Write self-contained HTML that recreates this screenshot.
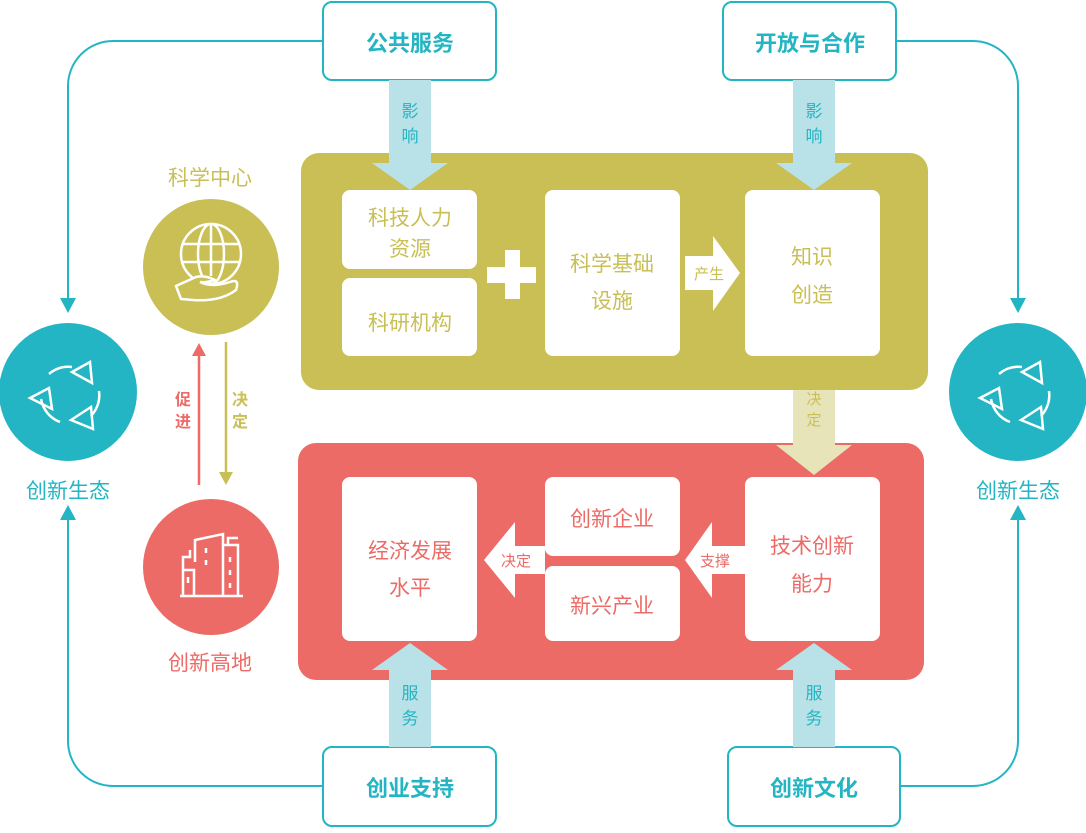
<!DOCTYPE html>
<html><head><meta charset="utf-8"><style>
html,body{margin:0;padding:0;background:#fff;}
svg text{font-family:"Liberation Sans","Noto Sans CJK SC",sans-serif;}
</style></head><body>
<svg width="1086" height="828" viewBox="0 0 1086 828" xmlns="http://www.w3.org/2000/svg">
<g fill="none" stroke="#23b5c3" stroke-width="2">
<path d="M323 41 H113 A45 45 0 0 0 68 86 V300"/>
<path d="M896 41 H973 A45 45 0 0 1 1018 86 V300"/>
<path d="M323 786 H113 A45 45 0 0 1 68 741 V518"/>
<path d="M900 786 H973 A45 45 0 0 0 1018 741 V518"/>
</g>
<g fill="#23b5c3">
<polygon points="60,298 76,298 68,313"/>
<polygon points="1010,298 1026,298 1018,313"/>
<polygon points="60,520 76,520 68,505"/>
<polygon points="1010,520 1026,520 1018,505"/>
</g>
<g fill="#fff" stroke="#23b5c3" stroke-width="2">
<rect x="323" y="2" width="173" height="78" rx="9"/>
<rect x="723" y="2" width="173" height="78" rx="9"/>
<rect x="323" y="747" width="173" height="79" rx="9"/>
<rect x="728" y="747" width="172" height="79" rx="9"/>
</g>
<g fill="#23b5c3" font-size="22" font-weight="bold" text-anchor="middle">
<text x="410" y="51">公共服务</text>
<text x="810" y="51">开放与合作</text>
<text x="410" y="796">创业支持</text>
<text x="814" y="796">创新文化</text>
</g>
<rect x="301" y="153" width="627" height="237" rx="18" fill="#c9bf55"/>
<rect x="298" y="443" width="626" height="237" rx="18" fill="#ec6b66"/>
<g fill="#b9e1e8">
<rect x="389" y="80" width="42" height="84"/><polygon points="372,163 448,163 410,190"/>
<rect x="793" y="80" width="42" height="84"/><polygon points="776,163 852,163 814,190"/>
<rect x="389" y="670" width="42" height="77"/><polygon points="372,670 448,670 410,643"/>
<rect x="793" y="670" width="42" height="77"/><polygon points="776,670 852,670 814,643"/>
</g>
<rect x="793" y="390" width="42" height="56" fill="#e8e4ba"/>
<polygon points="776,445 852,445 814,475" fill="#e8e4ba"/>
<g fill="#23b5c3" font-size="17" text-anchor="middle">
<text x="410" y="117">影</text><text x="410" y="142">响</text>
<text x="814" y="117">影</text><text x="814" y="142">响</text>
<text x="410" y="699">服</text><text x="410" y="724">务</text>
<text x="814" y="699">服</text><text x="814" y="724">务</text>
</g>
<g fill="#c9bf55" font-size="15" text-anchor="middle">
<text x="814" y="404">决</text><text x="814" y="425">定</text>
</g>
<g fill="#fff">
<rect x="342" y="190" width="135" height="79" rx="8"/>
<rect x="342" y="278" width="135" height="78" rx="8"/>
<rect x="545" y="190" width="135" height="166" rx="8"/>
<rect x="745" y="190" width="135" height="166" rx="8"/>
<rect x="342" y="477" width="135" height="164" rx="8"/>
<rect x="545" y="477" width="135" height="79" rx="8"/>
<rect x="545" y="566" width="135" height="75" rx="8"/>
<rect x="745" y="477" width="135" height="164" rx="8"/>
<rect x="487" y="267" width="49" height="16"/>
<rect x="505" y="250" width="15" height="49"/>
<polygon points="685,256 713,256 713,236 740,273 713,311 713,290 685,290"/>
<polygon points="545,546 515,546 515,522 484,560 515,598 515,574 545,574"/>
<polygon points="745,546 712,546 712,522 685,560 712,598 712,574 745,574"/>
</g>
<g fill="#c9bf55" font-size="21" text-anchor="middle">
<text x="410" y="225">科技人力</text><text x="410" y="256">资源</text>
<text x="410" y="330">科研机构</text>
<text x="612" y="271">科学基础</text><text x="612" y="308">设施</text>
<text x="812" y="264">知识</text><text x="812" y="302">创造</text>
<text x="709" y="279" font-size="15">产生</text>
</g>
<g fill="#ec6b66" font-size="21" text-anchor="middle">
<text x="410" y="558">经济发展</text><text x="410" y="595">水平</text>
<text x="612" y="526">创新企业</text>
<text x="612" y="613">新兴产业</text>
<text x="812" y="553">技术创新</text><text x="812" y="591">能力</text>
<text x="516" y="566" font-size="15">决定</text>
<text x="715" y="566" font-size="15">支撑</text>
</g>
<circle cx="68" cy="392" r="69" fill="#23b5c3"/>
<circle cx="1018" cy="392" r="69" fill="#23b5c3"/>
<g id="rc" fill="none" stroke="#fff" stroke-width="2.5">
<path d="M49 374 A30 30 0 0 1 72 367"/>
<path d="M99 391 A30 30 0 0 1 91 416"/>
<path d="M60 422 A30 30 0 0 1 41 399"/>
<polygon points="72,372 90,362 92,383"/>
<polygon points="71,420 91,407 93,429"/>
<polygon points="30,398 49,388 52,409"/>
</g>
<g fill="none" stroke="#fff" stroke-width="2.5" transform="translate(950,0)">
<path d="M49 374 A30 30 0 0 1 72 367"/>
<path d="M99 391 A30 30 0 0 1 91 416"/>
<path d="M60 422 A30 30 0 0 1 41 399"/>
<polygon points="72,372 90,362 92,383"/>
<polygon points="71,420 91,407 93,429"/>
<polygon points="30,398 49,388 52,409"/>
</g>
<g fill="#23b5c3" font-size="21" text-anchor="middle">
<text x="68" y="498">创新生态</text>
<text x="1018" y="498">创新生态</text>
</g>
<text x="210" y="185" fill="#c9bf55" font-size="21" text-anchor="middle">科学中心</text>
<circle cx="211" cy="267" r="68" fill="#c9bf55"/>
<g fill="none" stroke="#fff" stroke-width="2.5">
<circle cx="211" cy="254" r="30"/>
<ellipse cx="211" cy="254" rx="13" ry="30"/>
<line x1="211" y1="224" x2="211" y2="276"/>
<line x1="182" y1="244" x2="240" y2="244"/>
<line x1="181" y1="262" x2="241" y2="262"/>
<path d="M176 286 L196 277 Q205 275 215 280 Q205 283 200 282 Q212 288 230 282 Q240 278 236 290 Q220 302 193 300 L181 299 Z" fill="#c9bf55"/>
</g>
<line x1="199" y1="352" x2="199" y2="485" stroke="#ec6b66" stroke-width="2.5"/>
<polygon points="192,356 206,356 199,343" fill="#ec6b66"/>
<line x1="226" y1="342" x2="226" y2="476" stroke="#c9bf55" stroke-width="2.5"/>
<polygon points="219,472 233,472 226,485" fill="#c9bf55"/>
<g font-size="16" text-anchor="middle" font-weight="bold">
<text x="183" y="405" fill="#ec6b66">促</text><text x="183" y="427" fill="#ec6b66">进</text>
<text x="240" y="405" fill="#c9bf55">决</text><text x="240" y="427" fill="#c9bf55">定</text>
</g>
<circle cx="211" cy="567" r="68" fill="#ec6b66"/>
<g fill="none" stroke="#fff" stroke-width="2.5">
<line x1="180" y1="596" x2="243" y2="596"/>
<path d="M183 596 V557 H190 V550"/>
<path d="M183 570 H194 V596"/>
<path d="M195 562 V540 L223 534 V596"/>
<path d="M223 545 H238 V596"/>
<path d="M228 545 V538 H238"/>
<line x1="206" y1="548" x2="206" y2="553"/><line x1="206" y1="560" x2="206" y2="565"/>
<line x1="230" y1="557" x2="230" y2="562"/><line x1="230" y1="570" x2="230" y2="575"/><line x1="230" y1="583" x2="230" y2="588"/>
<line x1="188" y1="577" x2="188" y2="583"/>
</g>
<text x="210" y="670" fill="#ec6b66" font-size="21" text-anchor="middle">创新高地</text>
</svg>
</body></html>
